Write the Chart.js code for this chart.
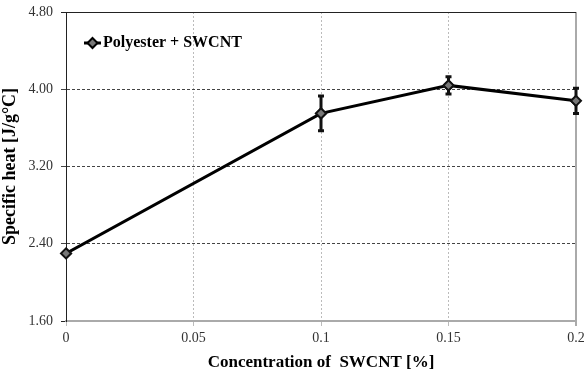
<!DOCTYPE html>
<html>
<head>
<meta charset="utf-8">
<script src="https://cdn.jsdelivr.net/npm/chart.js@4"></script>
<style>
  html, body { margin: 0; padding: 0; background: #fff; }
  #wrap { width: 584px; height: 373px; }
</style>
</head>
<body>
<div id="wrap"><canvas id="chart" width="584" height="373"></canvas></div>
<script>
// Data
const concentrations = [0, 0.1, 0.15, 0.2];
const specificHeat = [2.30, 3.75, 4.04, 3.88];
const errorBars = [0.0, 0.18, 0.09, 0.13];
const xTickLabels = ['0', '0.05', '0.1', '0.15', '0.2'];
const yTickLabels = ['1.60', '2.40', '3.20', '4.00', '4.80'];
const seriesName = 'Polyester + SWCNT';

const serif = "'Liberation Serif', 'DejaVu Serif', serif";

// error bars drawn through the scales
const errorBarPlugin = {
    id: 'errorBars',
    afterDatasetsDraw(chart) {
        const ctx = chart.ctx;
        const xs = chart.scales.x, ys = chart.scales.y;
        ctx.save();
        ctx.strokeStyle = '#111';
        ctx.lineWidth = 3;
        concentrations.forEach((c, i) => {
            const e = errorBars[i];
            if (!e) return;
            const px = xs.getPixelForValue(c);
            const top = ys.getPixelForValue(specificHeat[i] + e);
            const bot = ys.getPixelForValue(specificHeat[i] - e);
            ctx.beginPath();
            ctx.moveTo(px, top); ctx.lineTo(px, bot);
            ctx.moveTo(px - 3, top); ctx.lineTo(px + 3, top);
            ctx.moveTo(px - 3, bot); ctx.lineTo(px + 3, bot);
            ctx.stroke();
        });
        // redraw the markers on top of the bars
        chart.getDatasetMeta(0).data.forEach(pt => pt.draw(ctx, chart.chartArea));
        ctx.restore();
    }
};

// legend inside the plot, top-left
const insideLegend = {
    id: 'insideLegend',
    afterDraw(chart) {
        const ctx = chart.ctx;
        const ds = chart.data.datasets[0];
        const x = chart.chartArea.left + 18, y = chart.chartArea.top + 31;
        ctx.save();
        ctx.strokeStyle = ds.borderColor;
        ctx.lineWidth = 3;
        ctx.beginPath();
        ctx.moveTo(x, y); ctx.lineTo(x + 17, y);
        ctx.stroke();
        ctx.beginPath();
        ctx.moveTo(x + 8.5, y - 5); ctx.lineTo(x + 13.5, y);
        ctx.lineTo(x + 8.5, y + 5); ctx.lineTo(x + 3.5, y);
        ctx.closePath();
        ctx.fillStyle = ds.pointBackgroundColor;
        ctx.fill();
        ctx.lineWidth = 2;
        ctx.stroke();
        ctx.fillStyle = '#000';
        ctx.font = "bold 16px " + serif;
        ctx.textBaseline = 'middle';
        ctx.fillText(ds.label, x + 19, y);
        ctx.restore();
    }
};

new Chart(document.getElementById('chart').getContext('2d'), {
    type: 'line',
    data: {
        datasets: [{
            label: seriesName,
            data: concentrations.map((c, i) => ({ x: c, y: specificHeat[i] })),
            borderColor: '#000',
            borderWidth: 3,
            pointStyle: 'rectRot',
            pointRadius: 5,
            pointBackgroundColor: '#777',
            pointBorderColor: '#111',
            pointBorderWidth: 2,
            tension: 0
        }]
    },
    options: {
        responsive: false,
        animation: false,
        layout: { autoPadding: false, padding: { left: 0, right: 8, top: 12, bottom: 0 } },
        plugins: { legend: { display: false }, tooltip: { enabled: false } },
        scales: {
            x: {
                type: 'linear',
                min: 0, max: 0.2,
                afterFit: s => { s.height = 52; s.paddingRight = 0; s.paddingLeft = 0; },
                ticks: {
                    stepSize: 0.05,
                    padding: 4,
                    color: '#333',
                    font: { family: serif, size: 14 },
                    maxRotation: 0,
                    callback: (v, i) => xTickLabels[i]
                },
                grid: {
                    color: ctx => ctx.tick && ctx.tick.value >= 0.2 ? '#aaa' : '#bbb',
                    lineWidth: ctx => ctx.tick && ctx.tick.value >= 0.2 ? 2 : 1,
                    tickLength: 5
                },
                border: {
                    color: '#aaa', width: 2,
                    dash: ctx => (ctx.tick && (ctx.tick.value === 0 || ctx.tick.value >= 0.2)) ? [] : [2, 2]
                },
                title: {
                    display: true,
                    text: 'Concentration of  SWCNT [%]',
                    color: '#000',
                    font: { family: serif, size: 17, weight: 'bold' },
                    padding: { top: 2, bottom: 0 }
                }
            },
            y: {
                min: 1.6, max: 4.8,
                afterFit: s => { s.width = 66; s.paddingTop = 0; s.paddingBottom = 0; },
                ticks: {
                    stepSize: 0.8,
                    padding: 8,
                    color: '#333',
                    font: { family: serif, size: 14 },
                    callback: (v, i) => yTickLabels[i]
                },
                grid: {
                    color: ctx => ctx.tick && (ctx.tick.value <= 1.6 || ctx.tick.value >= 4.8) ? '#222' : '#444',
                    tickLength: 5
                },
                border: {
                    color: '#222', width: 1,
                    dash: ctx => (ctx.tick && (ctx.tick.value <= 1.6 || ctx.tick.value >= 4.8)) ? [] : [3, 2]
                },
                title: {
                    display: true,
                    text: 'Specific heat [J/g°C]',
                    color: '#000',
                    font: { family: serif, size: 18, weight: 'bold' },
                    padding: { top: 0, bottom: 0 }
                }
            }
        }
    },
    plugins: [errorBarPlugin, insideLegend]
});
</script>
</body>
</html>
